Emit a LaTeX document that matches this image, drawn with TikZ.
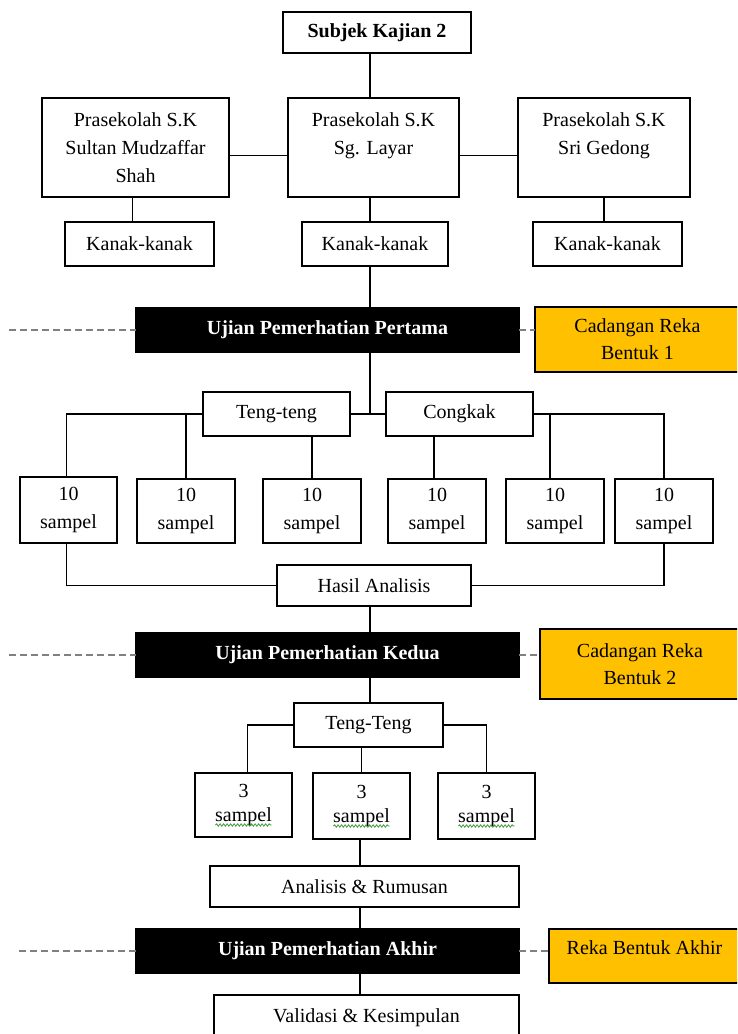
\documentclass[tikz,border=0pt]{standalone}
\usepackage{fontspec}
\setmainfont{Liberation Serif}
\usetikzlibrary{calc,decorations.pathmorphing}
\definecolor{amber}{HTML}{FFC000}
\definecolor{dashgrey}{HTML}{808080}
\definecolor{spellgreen}{HTML}{3A9A3A}

% box from its corners: name, x1, y1, x2, y2, style, text
\newcommand\boxat[7]{%
  \node[#6, anchor=north west, minimum width={#4-#2}, minimum height={#5-#3}] (#1) at (#2,#3) {#7};}

\tikzset{
  base/.style={draw=black, line width=1.3pt, inner sep=0pt, outer sep=0pt, align=center,
    font=\fontsize{20}{28}\selectfont},
  plain/.style={base, fill=white},
  head/.style={base, fill=white, font=\fontsize{20}{28}\selectfont\bfseries},
  stage/.style={base, fill=black, text=white, font=\fontsize{20}{28}\selectfont\bfseries},
  option/.style={base, fill=amber, font=\fontsize{20}{27}\selectfont},
  small/.style={base, fill=white, font=\fontsize{20}{24}\selectfont},
  conn/.style={draw=black, line width=1.3pt},
  guide/.style={draw=dashgrey, line width=2pt, dash pattern=on 7pt off 4pt},
  squig/.style={draw=spellgreen, line width=0.8pt, decorate,
    decoration={snake, amplitude=1.2pt, segment length=3.5pt}},
}

\begin{document}
\begin{tikzpicture}[x=1pt, y=-1pt]
\clip (0,0) rectangle (737,1034);
\fill[white] (0,0) rectangle (737,1034);

% top of the hierarchy
\boxat{subj}{283}{12}{471}{53}{head}{Subjek Kajian 2}
\boxat{smsa}{42}{98}{229}{197}{plain}{Prasekolah S.K\\Sultan Mudzaffar\\Shah}
\boxat{sgl}{288}{98}{459}{197}{plain}{Prasekolah S.K\\Sg. Layar\\\mbox{}}
\boxat{ssg}{518}{98}{690}{197}{plain}{Prasekolah S.K\\Sri Gedong\\\mbox{}}
\boxat{k1}{65}{222}{214}{266}{plain}{Kanak-kanak}
\boxat{k2}{302}{222}{448}{266}{plain}{Kanak-kanak}
\boxat{k3}{533}{222}{682}{266}{plain}{Kanak-kanak}

% first test
\boxat{u1}{136}{308}{519}{352}{stage}{Ujian Pemerhatian Pertama}
\boxat{y1}{535}{307}{740}{372}{option}{Cadangan Reka\\Bentuk 1}
\boxat{tt}{203}{392}{350}{436}{plain}{Teng-teng}
\boxat{ck}{386}{392}{533}{436}{plain}{Congkak}
\boxat{s1}{20}{477}{117}{543}{plain}{10\\sampel}
\boxat{s2}{137}{479}{235}{543}{plain}{10\\sampel}
\boxat{s3}{263}{479}{361}{543}{plain}{10\\sampel}
\boxat{s4}{388}{479}{486}{543}{plain}{10\\sampel}
\boxat{s5}{506}{479}{604}{543}{plain}{10\\sampel}
\boxat{s6}{615}{479}{713}{543}{plain}{10\\sampel}
\boxat{hasil}{277}{565}{471}{606}{plain}{Hasil Analisis}

% second test
\boxat{u2}{136}{633}{519}{677}{stage}{Ujian Pemerhatian Kedua}
\boxat{y2}{540}{629}{740}{699}{option}{Cadangan Reka\\Bentuk 2}
\boxat{tt2}{294}{703}{443}{747}{plain}{Teng-Teng}
\boxat{t1}{195}{773}{292}{837}{small}{3\\sampel}
\boxat{t2}{313}{773}{410}{839}{small}{3\\sampel}
\boxat{t3}{438}{773}{535}{839}{small}{3\\sampel}
\boxat{ar}{210}{866}{519}{907}{plain}{Analisis \& Rumusan}

% final test
\boxat{u3}{136}{929}{519}{973}{stage}{Ujian Pemerhatian Akhir}
\boxat{y3}{549}{929}{740}{983}{option}{}
\node[font=\fontsize{20}{28}\selectfont] at ($(y3.center)+(0,-8)$) {Reka Bentuk Akhir};
\boxat{val}{214}{995}{519}{1040}{plain}{Validasi \& Kesimpulan}

% spelling marks under "sampel"
\foreach \b in {t1,t2,t3}{
  \draw[squig] ($(\b.center)+(-28,20)$) -- ($(\b.center)+(28,20)$);
}

% connectors
\coordinate (spine) at (370,0);
\coordinate (spine2) at (360,0);
\draw[conn] (spine |- subj.south) -- (spine |- sgl.north);
\draw[conn] ([yshift=-8pt]smsa.east) -- ([yshift=-8pt]smsa.east -| sgl.west);
\draw[conn] ([yshift=-8pt]sgl.east) -- ([yshift=-8pt]sgl.east -| ssg.west);
\draw[conn] ([xshift=-7pt]k1.north) -- ([xshift=-7pt]k1.north |- smsa.south);
\draw[conn] (spine |- sgl.south) -- (spine |- k2.north);
\draw[conn] (ssg.south) -- (ssg.south |- k3.north);
\draw[conn] (spine |- k2.south) -- (spine |- u1.north);
\draw[conn] (spine |- u1.south) -- (spine |- tt.east);
\draw[conn] (tt.east) -- (ck.west);
\draw[conn] (tt.west) -| ([xshift=-2pt]s1.north);
\draw[conn] (tt.west -| s2.north) -- (s2.north);
\draw[conn] (tt.south -| s3.north) -- (s3.north);
\draw[conn] ([xshift=-3pt]ck.south -| s4.north) -- ([xshift=-3pt]s4.north);
\draw[conn] (ck.east) -| (s6.north);
\draw[conn] ([xshift=-5pt]ck.east -| s5.north) -- ([xshift=-5pt]s5.north);
\draw[conn] ([xshift=-2pt]s1.south) |- (hasil.west);
\draw[conn] (s6.south) |- (hasil.east);
\draw[conn] (spine |- hasil.south) -- (spine |- u2.north);
\draw[conn] (spine |- u2.south) -- (spine |- tt2.north);
\draw[conn] (tt2.west) -| ([xshift=4pt]t1.north);
\draw[conn] (tt2.east) -| (t3.north);
\draw[conn] (tt2.south -| t2.north) -- (t2.north);
\draw[conn] (spine2 |- t2.south) -- (spine2 |- ar.north);
\draw[conn] (spine2 |- ar.south) -- (spine2 |- u3.north);
\draw[conn] (spine2 |- u3.south) -- (spine2 |- val.north);

% dashed guide lines beside each test
\coordinate (g1) at (9,0);
\coordinate (g3) at (19,0);
\draw[guide] (g1 |- u1.west) -- (u1.west);
\draw[guide] (u1.east) -- (u1.east -| y1.west);
\draw[guide] (g1 |- u2.west) -- (u2.west);
\draw[guide] (u2.east) -- (u2.east -| y2.west);
\draw[guide] (g3 |- u3.west) -- (u3.west);
\draw[guide] (u3.east) -- (u3.east -| y3.west);
\end{tikzpicture}
\end{document}
